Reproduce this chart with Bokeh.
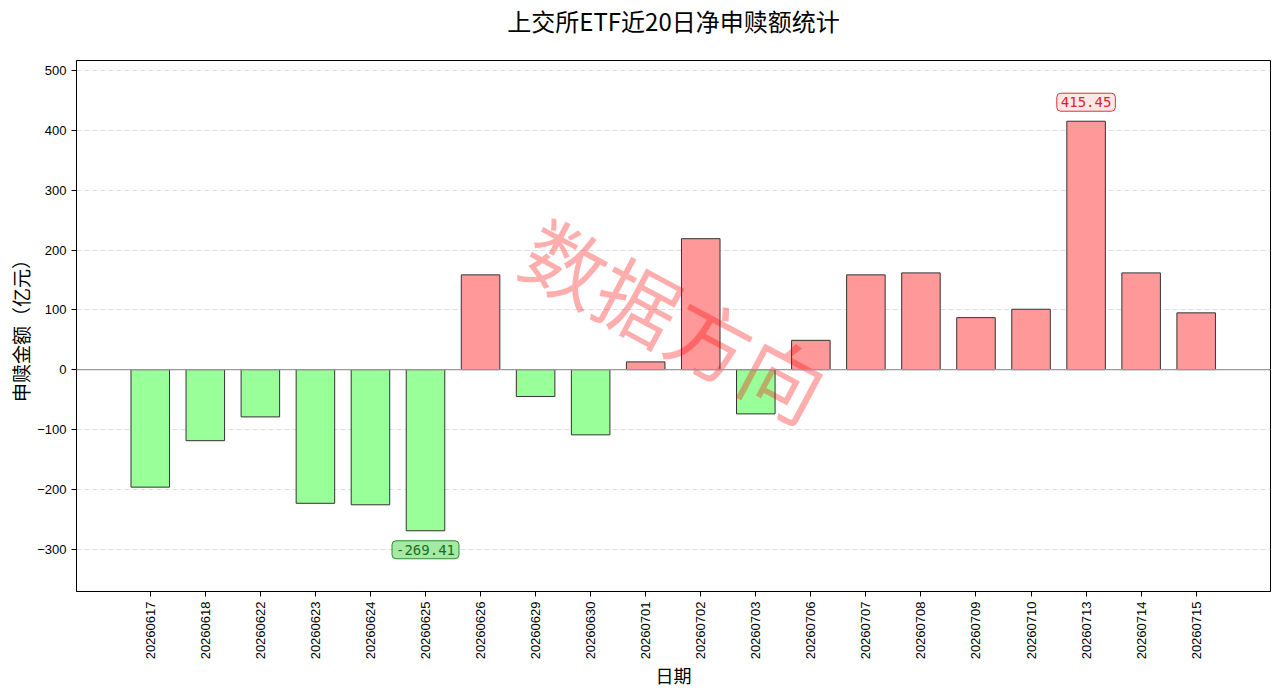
import math
from bokeh.plotting import figure
from bokeh.models import Range1d, FixedTicker, Label, ColumnDataSource, Span, Title
from bokeh.core.properties import value
from bokeh.embed import file_html
from bokeh.resources import INLINE

title = "上交所ETF近20日净申赎额统计"
dates = ["20260617", "20260618", "20260622", "20260623", "20260624", "20260625",
         "20260626", "20260629", "20260630", "20260701", "20260702", "20260703",
         "20260706", "20260707", "20260708", "20260709", "20260710", "20260713",
         "20260714", "20260715"]
values = [-196.5, -118.8, -79.0, -223.5, -226.0, -269.41,
          158.5, -45.0, -109.0, 13.0, 219.0, -74.0,
          49.0, 158.5, 161.8, 87.0, 101.0, 415.45,
          161.8, 95.0]
y_ticks = [-300, -200, -100, 0, 100, 200, 300, 400, 500]

CJK = "Noto Sans CJK SC"
LAT = "Liberation Sans"

xs = list(range(len(dates)))
colors = ["#ff9999" if v >= 0 else "#99ff99" for v in values]
src = ColumnDataSource(dict(x=xs, top=values, color=colors))

X0, X1, Y0, Y1 = -1.34, 20.35, -371, 517
p = figure(width=1280, height=696, output_backend="svg", toolbar_location=None,
           x_range=Range1d(X0, X1), y_range=Range1d(Y0, Y1),
           min_border_left=76, min_border_right=10, min_border_bottom=105, min_border_top=0)

# spacer between title and frame, then the title itself
p.add_layout(Title(text=" ", text_font=CJK, text_font_size="10px", standoff=6), "above")
p.add_layout(Title(text=title, align="center", text_font=CJK, text_font_size="24px",
                   text_font_style="normal", text_color="#000000", standoff=0), "above")

p.vbar(x="x", top="top", bottom=0, width=0.7, source=src, fill_color="color",
       line_color="#333333", line_width=1)

p.add_layout(Span(location=0, dimension="width", line_color="#999999", line_width=1.2))

# grid
p.xgrid.grid_line_color = None
p.ygrid.grid_line_color = "#dddddd"
p.ygrid.grid_line_dash = "5 3"
p.ygrid.grid_line_width = 1
p.ygrid.ticker = FixedTicker(ticks=y_ticks)

# axes
p.xaxis.ticker = FixedTicker(ticks=xs)
p.xaxis.major_label_overrides = {i: d for i, d in enumerate(dates)}
p.xaxis.major_label_orientation = math.pi / 2
p.yaxis.ticker = FixedTicker(ticks=y_ticks)
for ax in (p.xaxis[0], p.yaxis[0]):
    ax.major_label_text_font = LAT
    ax.major_label_text_font_size = "13px"
    ax.major_label_text_color = "#000000"
    ax.major_tick_out = 5
    ax.major_tick_in = 0
    ax.minor_tick_out = 0
    ax.minor_tick_in = 0
    ax.axis_line_color = "#000000"
    ax.major_tick_line_color = "#000000"
    ax.axis_label_text_font = CJK
    ax.axis_label_text_font_style = "normal"
    ax.axis_label_text_color = "#000000"
p.xaxis.axis_label = "日期"
p.yaxis.axis_label = "申赎金额（亿元）"
p.xaxis.axis_label_text_font_size = "18px"
p.yaxis.axis_label_text_font_size = "19px"
p.xaxis.axis_label_standoff = 0
p.yaxis.axis_label_standoff = 0

p.outline_line_color = "#000000"
p.outline_line_width = 1
p.outline_line_alpha = 1

# watermark
p.text(x=[9.55], y=[86.0], text=["数据方向"], angle=math.radians(-28),
       text_font=value(CJK), text_font_size="82px", text_color="red", text_alpha=0.32,
       text_align="center", text_baseline="middle")

# annotations of max / min
imax = max(range(len(values)), key=lambda i: values[i])
imin = min(range(len(values)), key=lambda i: values[i])
p.add_layout(Label(x=imax, y=values[imax], text=f"{values[imax]:.2f}", y_offset=19,
                   text_align="center", text_baseline="middle", text_font="DejaVu Sans Mono",
                   text_font_size="14px", text_color="#d62728",
                   background_fill_color="#fde6e6", background_fill_alpha=0.95,
                   border_line_color="#e0303a", border_line_width=1,
                   border_radius=4, padding=4))
p.add_layout(Label(x=imin, y=values[imin], text=f"{values[imin]:.2f}", y_offset=-19,
                   text_align="center", text_baseline="middle", text_font="DejaVu Sans Mono",
                   text_font_size="14px", text_color="#1a6e1a",
                   background_fill_color="#9fe89f", background_fill_alpha=0.95,
                   border_line_color="#2e8b2e", border_line_width=1,
                   border_radius=4, padding=4))

open("out.html", "w").write(file_html(p, INLINE))
